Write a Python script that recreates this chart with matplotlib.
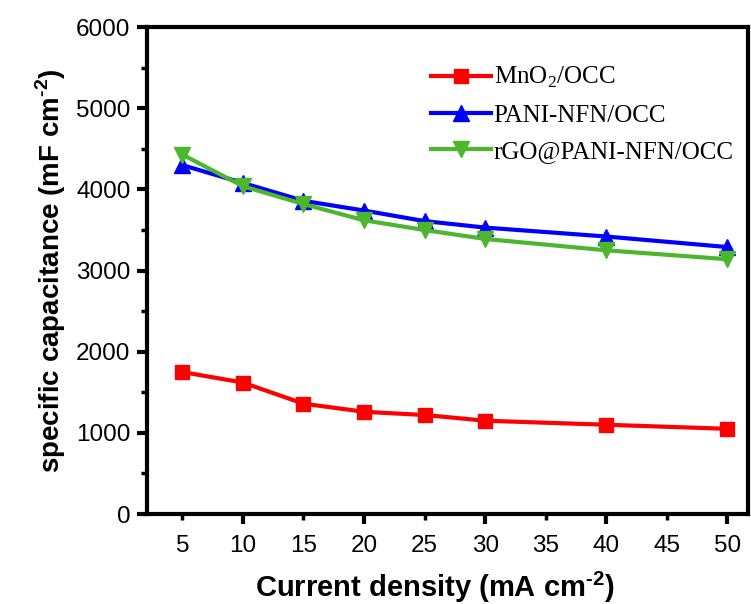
import matplotlib
matplotlib.use("Agg")
import matplotlib.pyplot as plt
from matplotlib.ticker import MultipleLocator, FixedLocator, FixedFormatter

current_density = [5, 10, 15, 20, 25, 30, 40, 50]
mno2 = [1750, 1620, 1360, 1260, 1220, 1150, 1100, 1050]
pani = [4300, 4080, 3860, 3740, 3610, 3530, 3420, 3290]
rgo = [4430, 4040, 3820, 3620, 3500, 3390, 3250, 3140]

labels = ["MnO$_\\mathsf{2}$/OCC", "PANI-NFN/OCC", "rGO@PANI-NFN/OCC"]
major_x = [10, 20, 30, 40, 50]
minor_x = [5, 15, 25, 35, 45]

plt.rcParams['font.family'] = ['Liberation Sans', 'DejaVu Sans']
plt.rcParams['mathtext.fontset'] = 'custom'
plt.rcParams['mathtext.rm'] = 'Liberation Sans:bold'
plt.rcParams['mathtext.bf'] = 'Liberation Sans:bold'
plt.rcParams['mathtext.sf'] = 'Liberation Serif'

fig = plt.figure(figsize=(7.51, 6.04), dpi=100)
ax = fig.add_axes([0.196, 0.149, 0.8, 0.806])

ax.plot(current_density, mno2, color='#ff0000', marker='s', lw=3, ms=10, label=labels[0])
ax.plot(current_density, pani, color='#0000ff', marker='^', lw=3, ms=11, label=labels[1])
ax.plot(current_density, rgo, color='#4cb72d', marker='v', lw=3, ms=11, label=labels[2])

ax.set_xlim(2.1, 51.7)
ax.set_ylim(0, 6000)
ax.xaxis.set_major_locator(FixedLocator(major_x))
ax.xaxis.set_minor_locator(FixedLocator(minor_x))
ax.xaxis.set_minor_formatter(FixedFormatter([str(v) for v in minor_x]))
ax.yaxis.set_major_locator(MultipleLocator(1000))
ax.yaxis.set_minor_locator(MultipleLocator(500))

for s in ax.spines.values():
    s.set_linewidth(3)
ax.tick_params(which='major', direction='out', length=7, width=3, labelsize=17.5, pad=8)
ax.tick_params(which='minor', direction='out', length=4, width=2.5, labelsize=17.5, pad=11)
ax.tick_params(axis='y', which='major', pad=5)

ax.set_xlabel("Current density (mA cm$^{\\text{-2}}$)", fontsize=21, fontweight='bold', labelpad=4)
ax.xaxis.set_label_coords(0.478, -0.115)
ax.set_ylabel("specific capacitance (mF cm$^{\\text{-2}}$)", fontsize=20, fontweight='bold', labelpad=6)

leg = ax.legend(loc='upper left', bbox_to_anchor=(0.435, 0.968), frameon=False,
                prop={'family': 'Liberation Serif', 'size': 18},
                handlelength=2.4, labelspacing=0.55, handletextpad=0.1)

fig.savefig("out.png", dpi=100)
